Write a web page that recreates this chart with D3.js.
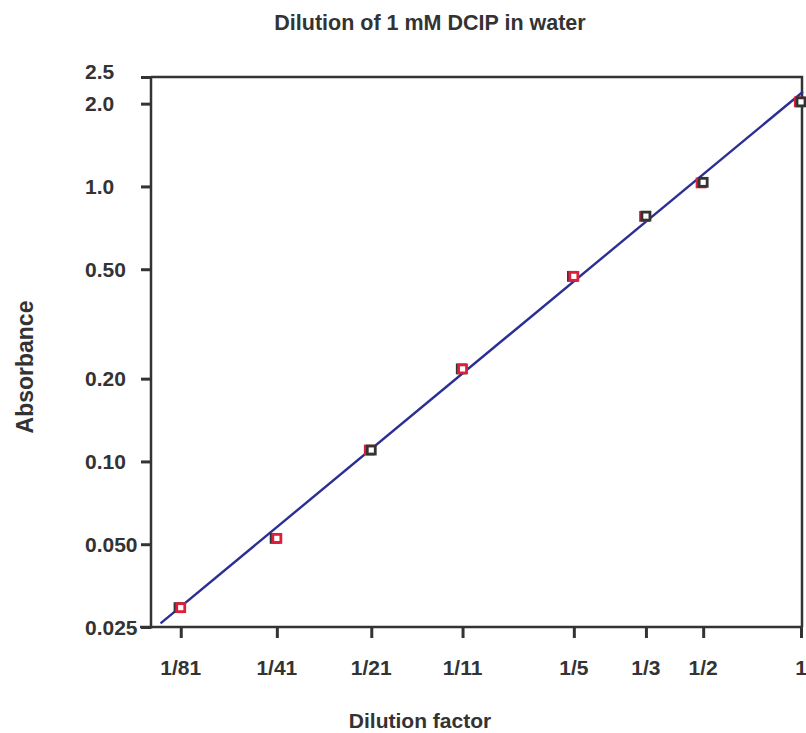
<!DOCTYPE html>
<html>
<head>
<meta charset="utf-8">
<script src="https://cdn.jsdelivr.net/npm/d3@7"></script>
<style>
  body { margin: 0; background: #fff; }
  svg text { font-family: "Liberation Sans", Arial, Helvetica, sans-serif; font-weight: bold; fill: #333; }
</style>
</head>
<body>
<svg id="chart" width="806" height="733"></svg>
<script>
// dilution series of 1 mM DCIP, two replicate readings
var xLabels = ["1/81", "1/41", "1/21", "1/11", "1/5", "1/3", "1/2", "1"];
var xTicks = [1/81, 1/41, 1/21, 1/11, 1/5, 1/3, 1/2, 1];
var yTicks = [2.5, 2.0, 1.0, 0.5, 0.2, 0.1, 0.05, 0.025];
var yLabels = ["2.5", "2.0", "1.0", "0.50", "0.20", "0.10", "0.050", "0.025"];

var xBlack = [1/82, 1/41.5, 1/21, 1/11.1, 1/5.05, 1/3, 1/2, 1];
var yBlack = [0.0294, 0.0525, 0.110, 0.217, 0.471, 0.780, 1.035, 2.03];
var xRed = [1/81, 1/41, 1/21.3, 1/11, 1/5, 1/3.03, 1/2.03, 1/1.012];
var yRed = [0.0294, 0.0525, 0.110, 0.217, 0.471, 0.778, 1.030, 2.03];

// power-law fit  A = coef * d^slope
var fitCoef = 2.18, fitSlope = 0.978;
var fitRange = [0.0107, 1.014];

var svg = d3.select("#chart");
var ink = "#333";

var x = d3.scaleLog().domain([0.01, 1]).range([151, 801]);
var y = d3.scaleLog().domain([0.025, 2.5]).range([627, 77]);

// frame (top + right)
svg.append("path")
  .attr("d", "M" + x.range()[0] + "," + y.range()[1] + "H" + (x.range()[1] + 1) + "V" + y.range()[0])
  .attr("fill", "none").attr("stroke", ink).attr("stroke-width", 2.5);

// y axis
var gy = svg.append("g").attr("transform", "translate(" + x.range()[0] + ",0)")
  .call(d3.axisLeft(y).tickValues(yTicks).tickSize(10).tickFormat(""));
gy.select(".domain").attr("stroke", ink).attr("stroke-width", 2.5)
  .attr("d", "M0," + y.range()[1] + "V" + (y.range()[0] + 1.5));
gy.selectAll(".tick line").attr("stroke", ink).attr("stroke-width", 3);

svg.append("g").selectAll("text").data(yTicks).enter().append("text")
  .attr("x", 85)
  .attr("y", function(d, i) { return y(d) + (i == 0 ? -6 : 0); })
  .attr("dy", "0.36em")
  .attr("font-size", 21)
  .text(function(d, i) { return yLabels[i]; });

// x axis
var gx = svg.append("g").attr("transform", "translate(0," + y.range()[0] + ")")
  .call(d3.axisBottom(x).tickValues(xTicks).tickSize(11).tickFormat(""));
gx.select(".domain").attr("stroke", ink).attr("stroke-width", 2.5)
  .attr("d", "M" + (x.range()[0] - 11) + ",0H" + (x.range()[1] + 2));
gx.selectAll(".tick line").attr("stroke", ink).attr("stroke-width", 3);

svg.append("g").selectAll("text").data(xTicks).enter().append("text")
  .attr("x", function(d) { return x(d); })
  .attr("y", 675)
  .attr("text-anchor", "middle")
  .attr("font-size", 21)
  .text(function(d, i) { return xLabels[i]; });

// fit line
var fitPts = fitRange.map(function(d) { return [d, fitCoef * Math.pow(d, fitSlope)]; });
svg.append("path")
  .datum(fitPts)
  .attr("d", d3.line().x(function(d) { return x(d[0]); }).y(function(d) { return y(d[1]); }))
  .attr("fill", "none").attr("stroke", "#2b2f93").attr("stroke-width", 2.4);

// points, rightmost square on top
var pts = [];
xBlack.forEach(function(d, i) { pts.push({ x: d, y: yBlack[i], c: ink }); });
xRed.forEach(function(d, i) { pts.push({ x: d, y: yRed[i], c: "#dc1f3c" }); });
pts.sort(function(a, b) { return a.x - b.x; });

svg.append("g").selectAll("rect").data(pts).enter().append("rect")
  .attr("x", function(d) { return x(d.x) - 4; })
  .attr("y", function(d) { return y(d.y) - 4; })
  .attr("width", 8).attr("height", 8)
  .attr("fill", "#fff")
  .attr("stroke", function(d) { return d.c; })
  .attr("stroke-width", 2.8);

// titles
svg.append("text").attr("x", 430).attr("y", 30).attr("text-anchor", "middle")
  .attr("font-size", 21.5).text("Dilution of 1 mM DCIP in water");

svg.append("text").attr("x", 420).attr("y", 728).attr("text-anchor", "middle")
  .attr("font-size", 21).text("Dilution factor");

svg.append("text")
  .attr("transform", "translate(33,367) rotate(-90)")
  .attr("text-anchor", "middle")
  .attr("font-size", 23).text("Absorbance");
</script>
</body>
</html>
